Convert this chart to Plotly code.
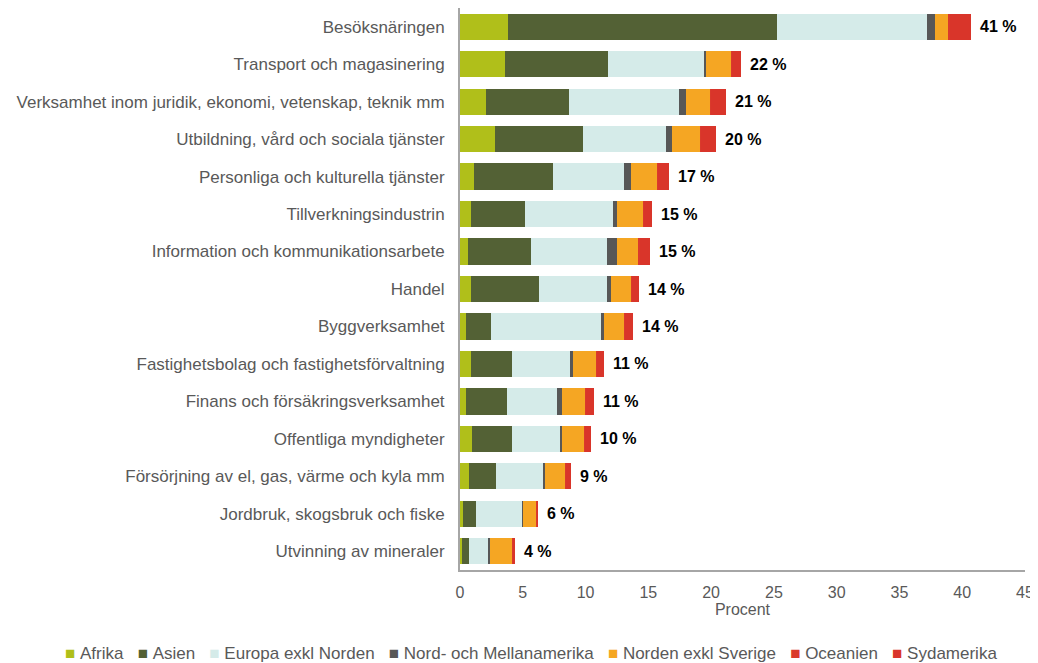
import plotly.graph_objects as go

categories = [
    "Besöksnäringen",
    "Transport och magasinering",
    "Verksamhet inom juridik, ekonomi, vetenskap, teknik mm",
    "Utbildning, vård och sociala tjänster",
    "Personliga och kulturella tjänster",
    "Tillverkningsindustrin",
    "Information och kommunikationsarbete",
    "Handel",
    "Byggverksamhet",
    "Fastighetsbolag och fastighetsförvaltning",
    "Finans och försäkringsverksamhet",
    "Offentliga myndigheter",
    "Försörjning av el, gas, värme och kyla mm",
    "Jordbruk, skogsbruk och fiske",
    "Utvinning av mineraler",
]

afrika = [3.79, 3.62, 2.09, 2.76, 1.15, 0.88, 0.62, 0.88, 0.47, 0.88, 0.47, 0.97, 0.71, 0.24, 0.18]
asien = [21.45, 8.14, 6.56, 7.00, 6.23, 4.27, 5.03, 5.38, 2.00, 3.24, 3.24, 3.15, 2.14, 1.05, 0.53]
europa = [11.97, 7.65, 8.79, 6.65, 5.68, 7.06, 6.06, 5.45, 8.74, 4.67, 4.03, 3.91, 3.83, 3.65, 1.55]
nord_mellanamerika = [0.61, 0.21, 0.59, 0.50, 0.53, 0.26, 0.76, 0.29, 0.23, 0.21, 0.35, 0.12, 0.11, 0.09, 0.12]
norden = [1.12, 2.00, 1.91, 2.24, 2.15, 2.15, 1.74, 1.68, 1.65, 1.91, 1.91, 1.73, 1.62, 1.09, 1.83]
oceanien = [0.12, 0.06, 0.05, 0.05, 0.05, 0.06, 0.14, 0.04, 0.06, 0.04, 0.04, 0.04, 0.04, 0.03, 0.03]
sydamerika = [1.62, 0.73, 1.22, 1.15, 0.86, 0.58, 0.77, 0.52, 0.59, 0.49, 0.61, 0.55, 0.43, 0.06, 0.14]

total_labels = [41, 22, 21, 20, 17, 15, 15, 14, 14, 11, 11, 10, 9, 6, 4]

series = [
    ("Afrika", afrika, "#B0BF1A"),
    ("Asien", asien, "#536135"),
    ("Europa exkl Norden", europa, "#D5EBE9"),
    ("Nord- och Mellanamerika", nord_mellanamerika, "#575757"),
    ("Norden exkl Sverige", norden, "#F5A623"),
    ("Oceanien", oceanien, "#DA3A2C"),
    ("Sydamerika", sydamerika, "#D9352A"),
]

FONT = "Liberation Sans, Arial, sans-serif"
TXT = "#595959"

fig = go.Figure()
for name, vals, color in series:
    fig.add_trace(go.Bar(
        y=categories, x=vals, name=name, orientation="h",
        marker=dict(color=color, line=dict(width=0)),
        showlegend=False,
    ))

# data labels with totals
totals = [sum(v) for v in zip(*[s[1] for s in series])]
for cat, tot, lab in zip(categories, totals, total_labels):
    fig.add_annotation(
        x=tot, y=cat, text=f"<b>{lab} %</b>", showarrow=False,
        xanchor="left", xshift=7, font=dict(family=FONT, size=16, color="#000000"),
    )

# legend drawn as a single line of text with coloured squares
legend_text = "&nbsp;&nbsp;&nbsp;".join(
    f"<span style='color:{color}'>■</span>&nbsp;{name}" for name, _, color in series
)
fig.add_annotation(
    x=0, y=0, xref="paper", yref="paper", xanchor="center", yanchor="middle",
    xshift=71, yshift=-83, showarrow=False, text=legend_text,
    font=dict(family=FONT, size=17, color=TXT),
)

fig.update_layout(
    barmode="stack",
    width=1030, height=655,
    margin=dict(l=452, r=13, t=0, b=93),
    paper_bgcolor="white", plot_bgcolor="white",
    font=dict(family=FONT, size=17, color=TXT),
    bargap=0.3,
    showlegend=False,
)
fig.update_xaxes(
    range=[0, 45], tickvals=list(range(0, 50, 5)),
    showgrid=False, zeroline=False,
    showline=True, linecolor="#A6A6A6", linewidth=2,
    ticks="", ticklabelstandoff=7,
    tickfont=dict(family=FONT, size=16, color=TXT),
    title=dict(text="Procent", font=dict(family=FONT, size=16, color=TXT), standoff=4),
)
fig.update_yaxes(
    categoryorder="array", categoryarray=categories, autorange="reversed",
    showgrid=False, zeroline=False,
    showline=True, linecolor="#A6A6A6", linewidth=2,
    ticks="", ticklabelstandoff=10,
    tickfont=dict(family=FONT, size=17, color=TXT),
)

fig.write_html("out.html")
